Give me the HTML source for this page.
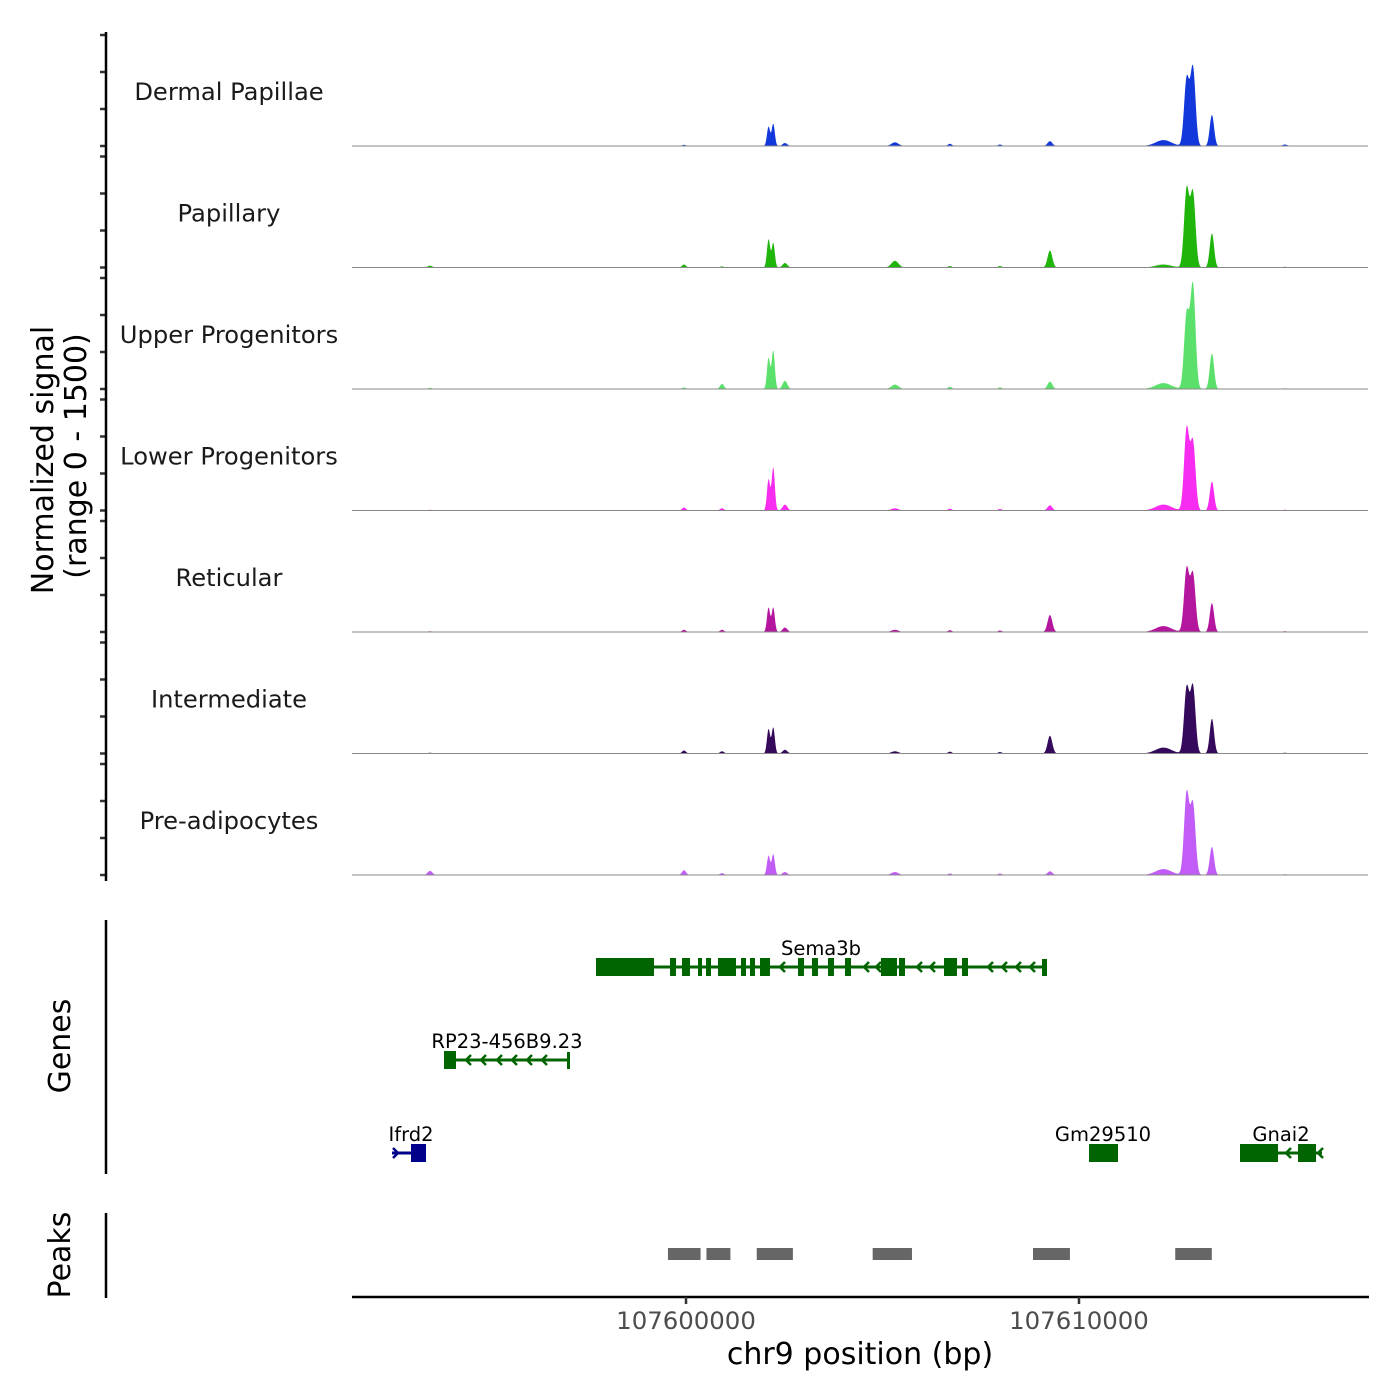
<!DOCTYPE html>
<html><head><meta charset="utf-8"><style>
body{margin:0;background:#fff}
svg{display:block;font-family:"DejaVu Sans","Liberation Sans",sans-serif}
</style></head><body>
<svg id="chart" width="1400" height="1400" viewBox="0 0 1400 1400" xmlns="http://www.w3.org/2000/svg">
<g id="tracks"></g>
<g id="genes"></g>
<g id="peaks"></g>
<g id="axes"></g>
</svg>
<script>
const trackNames = ["Dermal Papillae","Papillary","Upper Progenitors","Lower Progenitors","Reticular","Intermediate","Pre-adipocytes"];
const trackColors = ["#1238dc","#1fb50a","#5ce06c","#f72cf0","#b4169e","#35095b","#c15cf6"];
const peakCenters = [107593485,107599949,107600916,107602100,107602220,107602518,107605317,107606716,107607989,107609261,107612150,107612740,107612900,107613383,107615240];
const peakWidths  = [60,50,50,40,40,60,90,50,50,60,200,65,65,55,60];
const h_dermal   = [0,15,0,260,300,40,50,30,20,65,80,900,1050,420,20];
const h_papill   = [25,40,15,380,330,60,90,20,20,230,40,1050,1000,460,10];
const h_upper    = [15,20,70,420,520,110,60,30,20,100,80,1000,1400,480,10];
const h_lower    = [10,40,30,420,580,80,30,25,20,70,80,1100,920,390,10];
const h_retic    = [10,30,30,330,330,60,30,25,20,230,80,850,780,390,10];
const h_interm   = [10,40,30,330,350,50,30,25,20,240,80,880,900,470,10];
const h_preadip  = [55,65,25,260,280,40,40,20,20,50,80,1100,950,380,10];
const trackHeights = [h_dermal,h_papill,h_upper,h_lower,h_retic,h_interm,h_preadip];
const xTicks = [107600000,107610000];
const xTickLabels = ["107600000","107610000"];
const yTicks = [0,500,1000,1500];

const NS="http://www.w3.org/2000/svg";
const X0=107591500, X1=107617355, PX0=352, PX1=1368;
function xs(bp){return PX0+(bp-X0)/(X1-X0)*(PX1-PX0);}
const base0=146, stride=121.5, yMax=1500, hPx=111;
function ys(i,v){return base0+i*stride - v/yMax*hPx;}
function el(tag,attrs,parent,text){const e=document.createElementNS(NS,tag);for(const k in attrs)e.setAttribute(k,attrs[k]);if(text!==undefined)e.textContent=text;parent.appendChild(e);return e;}

const tracks=document.getElementById('tracks');
trackNames.forEach((name,i)=>{
  const g=el('g',{},tracks);
  
  
  const hs=trackHeights[i];
  let d='M'+PX0+' '+ys(i,0);
  for(let px=PX0;px<=PX1;px+=0.5){
    const bp=X0+(px-PX0)/(PX1-PX0)*(X1-X0);
    let v=0;
    for(let k=0;k<peakCenters.length;k++){const z=(bp-peakCenters[k])/peakWidths[k];v+=hs[k]*Math.exp(-0.5*z*z);}
    if(v>yMax)v=yMax;
    d+=' L'+px+' '+ys(i,v).toFixed(2);
  }
  d+=' L'+PX1+' '+ys(i,0)+' Z';
  const p=el('path',{d:d,fill:trackColors[i]},g);
  
  
  const bl=el('line',{x1:PX0,x2:PX1,y1:ys(i,0),y2:ys(i,0),stroke:'#888','stroke-width':1},g);
  
  
  const t=el('text',{x:229,y:ys(i,0)-46,'text-anchor':'middle','font-size':24.2,fill:'#1a1a1a'},g,name);
  
  
  yTicks.forEach(v=>{
    const tk=el('line',{x1:100,x2:106,y1:ys(i,v),y2:ys(i,v),stroke:'#333','stroke-width':2.5},g);
    
    
  });
});

const axes=document.getElementById('axes');
function ax(tag,attrs,text,name){const e=el(tag,attrs,axes,text);return e;}
ax('line',{x1:106,x2:106,y1:32,y2:881,stroke:'#000','stroke-width':2.5},undefined,'signal-y-axis');
ax('line',{x1:106,x2:106,y1:920,y2:1174,stroke:'#000','stroke-width':2.5},undefined,'genes-y-axis');
ax('line',{x1:106,x2:106,y1:1213,y2:1298,stroke:'#000','stroke-width':2.5},undefined,'peaks-y-axis');
ax('text',{x:0,y:0,transform:'translate(53,460) rotate(-90)','text-anchor':'middle','font-size':30,fill:'#000'},'Normalized signal','y-axis-title');
ax('text',{x:0,y:0,transform:'translate(86,456) rotate(-90)','text-anchor':'middle','font-size':30,fill:'#000'},'(range 0 - 1500)','y-axis-subtitle');
ax('text',{x:0,y:0,transform:'translate(70,1046) rotate(-90)','text-anchor':'middle','font-size':30,fill:'#000'},'Genes','genes-title');
ax('text',{x:0,y:0,transform:'translate(70,1255) rotate(-90)','text-anchor':'middle','font-size':30,fill:'#000'},'Peaks','peaks-title');
ax('line',{x1:352,x2:1369,y1:1297,y2:1297,stroke:'#000','stroke-width':2.5},undefined,'x-axis-line');
xTicks.forEach((t,i)=>{
  ax('line',{x1:xs(t),x2:xs(t),y1:1297,y2:1304,stroke:'#333','stroke-width':2.5},undefined,'x-tick');
  ax('text',{x:xs(t),y:1329,'text-anchor':'middle','font-size':24.4,fill:'#4d4d4d'},xTickLabels[i],'x-tick-label');
});
ax('text',{x:860,y:1364,'text-anchor':'middle','font-size':30,fill:'#000'},'chr9 position (bp)','x-axis-title');

const G=document.getElementById('genes');
function gel(tag,attrs,name,text){const e=el(tag,attrs,G,text);return e;}
function gene(name,y,x1,x2,exons,col,lx,arrows,dir){
  gel('line',{x1:x1,x2:x2,y1:y,y2:y,stroke:col,'stroke-width':3},name+'-intron');
  exons.forEach(e=>gel('rect',{x:e[0],y:y-9,width:e[1]-e[0],height:18,fill:col},name+'-exon'));
  arrows.forEach(a=>gel('path',{d:dir<0?`M${a+5} ${y-5} L${a} ${y} L${a+5} ${y+5}`:`M${a-5} ${y-5} L${a} ${y} L${a-5} ${y+5}`,fill:'none',stroke:col,'stroke-width':2.5},name+'-strand-arrow'));
  gel('text',{x:lx,y:y-12,'text-anchor':'middle','font-size':19.5,fill:'#000'},name+'-label',name);
}
const dg='#006400';
gene('Sema3b',967,596,1046,[[596,654],[670,676],[682,690],[698,702],[706,711],[718,736],[741,746],[750,755],[760,770],[798,804],[812,818],[828,834],[845,851],[881,897],[899,905],[944,957],[962,968]],dg,821,[780,864,876,917,930,988,1002,1016,1030],-1);
gel('rect',{x:1042,y:959,width:5,height:17,fill:dg},'Sema3b-end');
gene('RP23-456B9.23',1060,444,569,[[444,456]],dg,507,[466,481,497,512,527,542],-1);
gel('rect',{x:567,y:1052,width:3,height:17,fill:dg},'RP23-end');
gene('Ifrd2',1153,392,426,[[411,426]],'#00008b',411,[398],1);
gene('Gm29510',1153,1089,1118,[[1089,1118]],dg,1103,[],1);
gene('Gnai2',1153,1240,1322,[[1240,1278],[1298,1316]],dg,1281,[1286,1318],-1);

const peakStarts=[107599540,107600520,107601800,107604750,107608830,107612450];
const peakEnds  =[107600370,107601130,107602720,107605750,107609770,107613380];
const P=document.getElementById('peaks');
peakStarts.forEach((s,i)=>{
  const r=el('rect',{x:xs(s),y:1248,width:xs(peakEnds[i])-xs(s),height:12,fill:'#666'},P);
  
  
});
</script>
</body></html>
